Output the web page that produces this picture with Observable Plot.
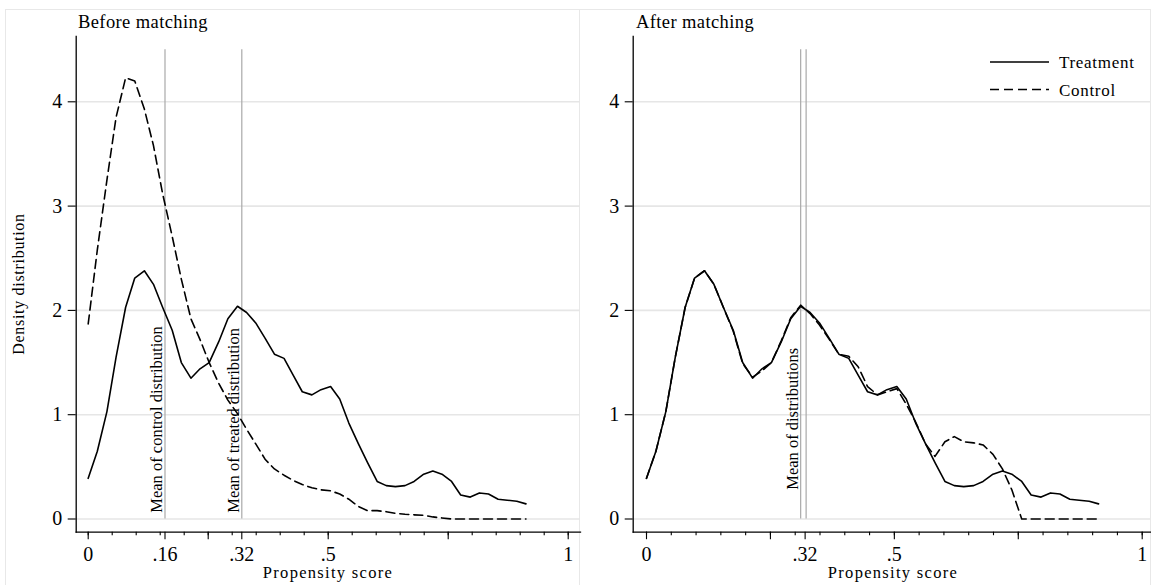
<!DOCTYPE html>
<html>
<head>
<meta charset="utf-8">
<script src="https://cdn.jsdelivr.net/npm/d3@7"></script>
<script src="https://cdn.jsdelivr.net/npm/@observablehq/plot@0.6"></script>
<style>
  body { margin: 0; background: #fff; }
  #wrap { position: relative; width: 1151px; height: 585px; overflow: hidden; background: #fff; }
  .box { position: absolute; border: 1px solid #e8e8e8; box-sizing: border-box; }
  .panel { position: absolute; top: 0; }
  #overlay { position: absolute; left: 0; top: 0; pointer-events: none; }
</style>
</head>
<body>
<div id="wrap">
  <div class="box" style="left:5px;top:9px;width:575px;height:577px;"></div>
  <div class="box" style="left:579px;top:9px;width:572px;height:577px;"></div>
  <div class="panel" id="left" style="left:0px;"></div>
  <div class="panel" id="right" style="left:579px;"></div>
</div>
<script>
// ---- data ----
const xGrid = [0, .019, .039, .058, .078, .097, .117, .136, .155, .175, .194, .214, .233, .252, .272, .291,
  .311, .330, .349, .369, .388, .408, .427, .446, .466, .485, .505, .524, .543, .563, .582, .602,
  .621, .640, .660, .679, .699, .718, .737, .757, .776, .796, .815, .834, .854, .873, .893, .912];

const treated = [0.39, 0.65, 1.03, 1.55, 2.03, 2.31, 2.38, 2.25, 2.03, 1.81, 1.50, 1.35, 1.44, 1.50, 1.70, 1.92,
  2.04, 1.98, 1.88, 1.73, 1.58, 1.54, 1.38, 1.22, 1.19, 1.24, 1.27, 1.15, 0.92, 0.72, 0.54, 0.36,
  0.32, 0.31, 0.32, 0.36, 0.43, 0.46, 0.43, 0.36, 0.23, 0.21, 0.25, 0.24, 0.19, 0.18, 0.17, 0.145];

const controlBefore = [1.87, 2.58, 3.25, 3.85, 4.23, 4.20, 3.93, 3.58, 3.12, 2.71, 2.30, 1.92, 1.72, 1.50, 1.30, 1.14,
  1.01, 0.86, 0.72, 0.57, 0.48, 0.42, 0.37, 0.33, 0.30, 0.28, 0.27, 0.24, 0.19, 0.12, 0.08, 0.08,
  0.07, 0.055, 0.045, 0.04, 0.035, 0.02, 0.01, 0, 0, 0, 0, 0, 0, 0, 0, 0];

const controlAfter = [0.39, 0.65, 1.03, 1.55, 2.03, 2.31, 2.38, 2.25, 2.03, 1.80, 1.49, 1.36, 1.42, 1.50, 1.71, 1.93,
  2.05, 1.97, 1.86, 1.72, 1.58, 1.56, 1.46, 1.27, 1.19, 1.22, 1.25, 1.10, 0.93, 0.72, 0.60, 0.74,
  0.79, 0.74, 0.73, 0.71, 0.62, 0.48, 0.28, 0, 0, 0, 0, 0, 0, 0, 0, 0];

const meansBefore = [0.16, 0.32];
const meansBeforeLabels = ["Mean of control distribution", "Mean of treated distribution"];
const meansAfter = [0.311, 0.322];
const meansAfterLabels = ["Mean of distributions"];
const meanLineTop = 4.5;

const yTicks = [0, 1, 2, 3, 4];
const yTickLabels = ["0", "1", "2", "3", "4"];
const xMinorTicks = [0, .05, .1, .15, .2, .25, .3, .35, .4, .45, .5, .55, .6, .65, .7, .75, .8, .85, .9, .95, 1];
const xMajorBefore = [0, .16, .25, .32, .5, .75, 1];
const xMajorBeforeLabels = ["0", ".16", "", ".32", ".5", "", "1"];
const xMajorAfter = [0, .25, .32, .5, .75, 1];
const xMajorAfterLabels = ["0", "", ".32", ".5", "", "1"];

const panelTitles = ["Before matching", "After matching"];
const xTitle = "Propensity score";
const yTitle = "Density distribution";
const legendLabels = ["Treatment", "Control"];

// ---- helpers ----
const toRows = (ys) => xGrid.map((x, i) => ({x, y: ys[i]}));
const FONT = "'Liberation Serif', 'Times New Roman', serif";
const DASH = "9,5";

function panel(opts) {
  const {width, marginLeft, marginRight, xRange, control, means, meanLabels, labelY, majors, majorLabels} = opts;
  const labelRows = meanLabels.map((t, i) => ({x: means[i], y: labelY, t}));
  return Plot.plot({
    width, height: 585,
    marginLeft, marginRight, marginTop: 36, marginBottom: 53.3,
    style: {fontFamily: FONT, fontSize: "20px", color: "#000", background: "transparent", overflow: "visible"},
    x: {domain: [0, 1], range: xRange},
    y: {domain: [0, 4], range: [518.5, 101.3]},
    marks: [
      Plot.gridY(yTicks, {stroke: "#e6e6e6", strokeOpacity: 1, strokeWidth: 1.6}),
      Plot.ruleX(means, {y1: 0, y2: meanLineTop, stroke: "#a9a9a9", strokeWidth: 1.2}),
      Plot.text(labelRows, {x: "x", y: "y", text: "t", rotate: -90, textAnchor: "start", lineAnchor: "middle",
        dx: -8, fontSize: 16.5, fill: "#000"}),
      Plot.line(toRows(treated), {x: "x", y: "y", stroke: "#000", strokeWidth: 1.6}),
      Plot.line(toRows(control), {x: "x", y: "y", stroke: "#000", strokeWidth: 1.6, strokeDasharray: DASH}),
      Plot.frame({anchor: "left", stroke: "#000", strokeWidth: 1.3}),
      Plot.frame({anchor: "bottom", stroke: "#000", strokeWidth: 1.3}),
      Plot.axisY({ticks: yTicks, tickSize: 8, tickPadding: 6, label: null, fontSize: 20, strokeWidth: 1.1,
        tickFormat: (d) => yTickLabels[yTicks.indexOf(d)]}),
      Plot.axisX({ticks: xMinorTicks, tickSize: 3.5, tickFormat: () => "", label: null, strokeWidth: 1.1}),
      Plot.axisX({ticks: majors, tickSize: 7.5, tickPadding: 7, label: null, fontSize: 20, strokeWidth: 1.1,
        tickFormat: (d) => majorLabels[majors.indexOf(d)]})
    ]
  });
}

document.getElementById("left").appendChild(panel({
  width: 580, marginLeft: 75.7, marginRight: 0, xRange: [87.7, 567.7],
  control: controlBefore, means: meansBefore, meanLabels: meansBeforeLabels, labelY: 0.06,
  majors: xMajorBefore, majorLabels: xMajorBeforeLabels
}));
document.getElementById("right").appendChild(panel({
  width: 572, marginLeft: 53.7, marginRight: 1, xRange: [67, 562.7],
  control: controlAfter, means: meansAfter, meanLabels: meansAfterLabels, labelY: 0.28,
  majors: xMajorAfter, majorLabels: xMajorAfterLabels
}));

// ---- titles, axis titles and legend (text overlay) ----
const ov = d3.select("#wrap").append("svg").attr("id", "overlay")
  .attr("width", 1151).attr("height", 585)
  .style("font-family", FONT);
ov.append("text").attr("x", 78).attr("y", 28).attr("font-size", 18.5).attr("letter-spacing", 0.4).text(panelTitles[0]);
ov.append("text").attr("x", 636).attr("y", 28).attr("font-size", 18.5).attr("letter-spacing", 0.4).text(panelTitles[1]);
ov.append("text").attr("transform", "translate(24,284) rotate(-90)").attr("text-anchor", "middle")
  .attr("font-size", 16).attr("letter-spacing", 0.7).text(yTitle);
ov.append("text").attr("x", 328).attr("y", 578).attr("text-anchor", "middle")
  .attr("font-size", 16.5).attr("letter-spacing", 1.3).text(xTitle);
ov.append("text").attr("x", 893).attr("y", 578).attr("text-anchor", "middle")
  .attr("font-size", 16.5).attr("letter-spacing", 1.3).text(xTitle);
const lg = ov.append("g");
[[62, null], [89.5, DASH]].forEach(([y, dash], i) => {
  const l = lg.append("line").attr("x1", 990).attr("x2", 1049).attr("y1", y).attr("y2", y)
    .attr("stroke", "#000").attr("stroke-width", 1.6);
  if (dash) l.attr("stroke-dasharray", dash);
  lg.append("text").attr("x", 1059).attr("y", y + 6).attr("font-size", 17).attr("letter-spacing", 0.7).text(legendLabels[i]);
});
</script>
</body>
</html>
